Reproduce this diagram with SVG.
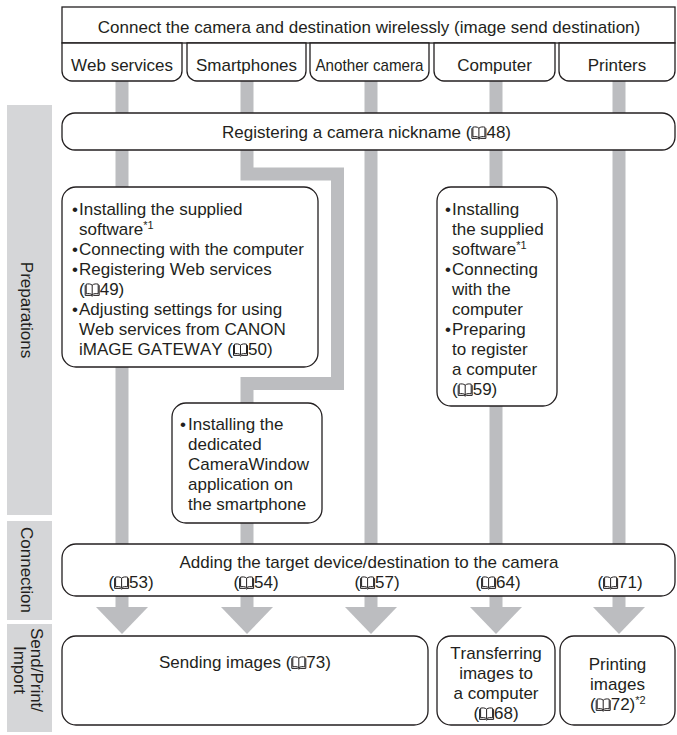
<svg xmlns="http://www.w3.org/2000/svg" width="677" height="735" viewBox="0 0 677 735">
<defs>
<style>
text{font-family:"Liberation Sans",Arial,Helvetica,sans-serif;font-size:17px;fill:#231f20;font-kerning:none}
.c{text-anchor:middle}
.box{fill:#fff;stroke:#231f20;stroke-width:1.3}
.bar{fill:none;stroke:#bcbdc0;stroke-width:13;stroke-linejoin:miter}
.lab{fill:#d5d6d8}
.sup{font-size:11px}
.bkp{fill:none;stroke:#231f20;stroke-width:1}
.ah{fill:#bcbdc0}
</style>
<g id="bk" class="bkp">
<path d="M7.5,-9.8 C6,-11.3 3.2,-11.3 1.5,-10.8 V-1.2 C3.2,-1.6 6,-1.6 7.5,-0.3"/>
<path d="M7.5,-9.8 C9,-11.3 11.8,-11.3 13.5,-10.8 V-1.2 C11.8,-1.6 9,-1.6 7.5,-0.3"/>
<path d="M7.5,-9.8 V-0.3"/>
<path d="M0.5,-9.8 V0.4 H6.2 Q7.5,0.4 7.5,1.3 Q7.5,0.4 8.8,0.4 H14.5 V-9.8"/>
</g>
<polygon id="ah" class="ah" points="-26,0 26,0 0,27"/>
</defs>

<g id="connectors">
<line class="bar" x1="122" y1="81" x2="122" y2="608"/>
<polyline class="bar" points="247,81 247,174 337.5,174 337.5,383.5 247,383.5 247,608"/>
<line class="bar" x1="371" y1="81" x2="371" y2="608"/>
<line class="bar" x1="496" y1="81" x2="496" y2="608"/>
<line class="bar" x1="619" y1="81" x2="619" y2="608"/>
<use href="#ah" x="122" y="607"/>
<use href="#ah" x="247" y="607"/>
<use href="#ah" x="371" y="607"/>
<use href="#ah" x="496" y="607"/>
<use href="#ah" x="619" y="607"/>
</g>

<g id="label-preparations">
<rect class="lab" x="7" y="105" width="45" height="410"/>
<text class="c" transform="translate(21,310) rotate(90)">Preparations</text>
</g>
<g id="label-connection">
<rect class="lab" x="7" y="521" width="45" height="99"/>
<text class="c" transform="translate(21,570) rotate(90)">Connection</text>
</g>
<g id="label-send">
<rect class="lab" x="7" y="624" width="45" height="108"/>
<text class="c" transform="translate(31,670) rotate(90)"><tspan x="0" y="0">Send/Print/</tspan><tspan x="0" y="17">Import</tspan></text>
</g>

<g id="header">
<rect class="box" x="62" y="7" width="613" height="36"/>
<text class="c" x="369" y="33">Connect the camera and destination wirelessly (image send destination)</text>
</g>
<g id="tab-web">
<path class="box" d="M62,43 H182 V71 A10,10 0 0 1 172,81 H72 A10,10 0 0 1 62,71 Z"/>
<text class="c" x="122" y="71">Web services</text>
</g>
<g id="tab-smartphones">
<path class="box" d="M187,43 H306 V71 A10,10 0 0 1 296,81 H197 A10,10 0 0 1 187,71 Z"/>
<text class="c" x="246.5" y="71">Smartphones</text>
</g>
<g id="tab-camera">
<path class="box" d="M310,43 H429 V71 A10,10 0 0 1 419,81 H320 A10,10 0 0 1 310,71 Z"/>
<text class="c" x="369.5" y="71" textLength="108" lengthAdjust="spacingAndGlyphs">Another camera</text>
</g>
<g id="tab-computer">
<path class="box" d="M434,43 H555 V71 A10,10 0 0 1 545,81 H444 A10,10 0 0 1 434,71 Z"/>
<text class="c" x="494.5" y="71">Computer</text>
</g>
<g id="tab-printers">
<path class="box" d="M559,43 H675 V71 A10,10 0 0 1 665,81 H569 A10,10 0 0 1 559,71 Z"/>
<text class="c" x="617" y="71">Printers</text>
</g>

<g id="nickname">
<rect class="box" x="62" y="113" width="613" height="37" rx="13"/>
<text x="222" y="138">Registering a camera nickname (<tspan dx="15">48)</tspan></text>
<use href="#bk" x="471.4" y="138"/>
</g>

<g id="prep-web">
<rect class="box" x="62" y="187" width="256" height="180" rx="14"/>
<text x="72" y="215">•</text><text x="79" y="215">Installing the supplied</text>
<text x="79" y="235">software<tspan class="sup" dy="-6">*1</tspan></text>
<text x="72" y="255">•</text><text x="79" y="255">Connecting with the computer</text>
<text x="72" y="275">•</text><text x="79" y="275">Registering Web services</text>
<text x="79" y="295">(<tspan dx="15">49)</tspan></text>
<use href="#bk" x="84.7" y="295"/>
<text x="72" y="315">•</text><text x="79" y="315">Adjusting settings for using</text>
<text x="79" y="335">Web services from CANON</text>
<text x="79" y="355">iMAGE GATEWAY (<tspan dx="15">50)</tspan></text>
<use href="#bk" x="233" y="355"/>
</g>

<g id="prep-computer">
<rect class="box" x="437" y="187" width="120" height="219" rx="14"/>
<text x="445" y="215">•</text><text x="452" y="215">Installing</text>
<text x="452" y="235">the supplied</text>
<text x="452" y="255">software<tspan class="sup" dy="-6">*1</tspan></text>
<text x="445" y="275">•</text><text x="452" y="275">Connecting</text>
<text x="452" y="295">with the</text>
<text x="452" y="315">computer</text>
<text x="445" y="335">•</text><text x="452" y="335">Preparing</text>
<text x="452" y="355">to register</text>
<text x="452" y="375">a computer</text>
<text x="452" y="395">(<tspan dx="15">59)</tspan></text>
<use href="#bk" x="457.7" y="395"/>
</g>

<g id="prep-smartphone">
<rect class="box" x="172" y="403" width="150" height="120" rx="14"/>
<text x="180" y="430">•</text><text x="188" y="430">Installing the</text>
<text x="188" y="450">dedicated</text>
<text x="188" y="470">CameraWindow</text>
<text x="188" y="490">application on</text>
<text x="188" y="510">the smartphone</text>
</g>

<g id="connection">
<rect class="box" x="62" y="544" width="613" height="52" rx="14"/>
<text class="c" x="369" y="568">Adding the target device/destination to the camera</text>
<text x="108.4" y="588">(<tspan dx="15">53)</tspan></text>
<use href="#bk" x="114.1" y="588"/>
<text x="233.4" y="588">(<tspan dx="15">54)</tspan></text>
<use href="#bk" x="239.1" y="588"/>
<text x="354.4" y="588">(<tspan dx="15">57)</tspan></text>
<use href="#bk" x="360.1" y="588"/>
<text x="475.4" y="588">(<tspan dx="15">64)</tspan></text>
<use href="#bk" x="481.1" y="588"/>
<text x="597.4" y="588">(<tspan dx="15">71)</tspan></text>
<use href="#bk" x="603.1" y="588"/>
</g>

<g id="send">
<rect class="box" x="62" y="636" width="366" height="89" rx="14"/>
<text x="159" y="668">Sending images (<tspan dx="15">73)</tspan></text>
<use href="#bk" x="291.3" y="668"/>
</g>

<g id="transfer">
<rect class="box" x="437" y="636" width="118" height="89" rx="14"/>
<text class="c" x="496" y="659">Transferring</text>
<text class="c" x="496" y="679">images to</text>
<text class="c" x="496" y="699">a computer</text>
<text x="473.4" y="719">(<tspan dx="15">68)</tspan></text>
<use href="#bk" x="479.1" y="719"/>
</g>

<g id="print">
<rect class="box" x="560" y="636" width="115" height="89" rx="14"/>
<text class="c" x="617.5" y="670">Printing</text>
<text class="c" x="617.5" y="690">images</text>
<text x="590" y="710">(<tspan dx="15">72)</tspan><tspan class="sup" dy="-6">*2</tspan></text>
<use href="#bk" x="595.7" y="710"/>
</g>
</svg>
